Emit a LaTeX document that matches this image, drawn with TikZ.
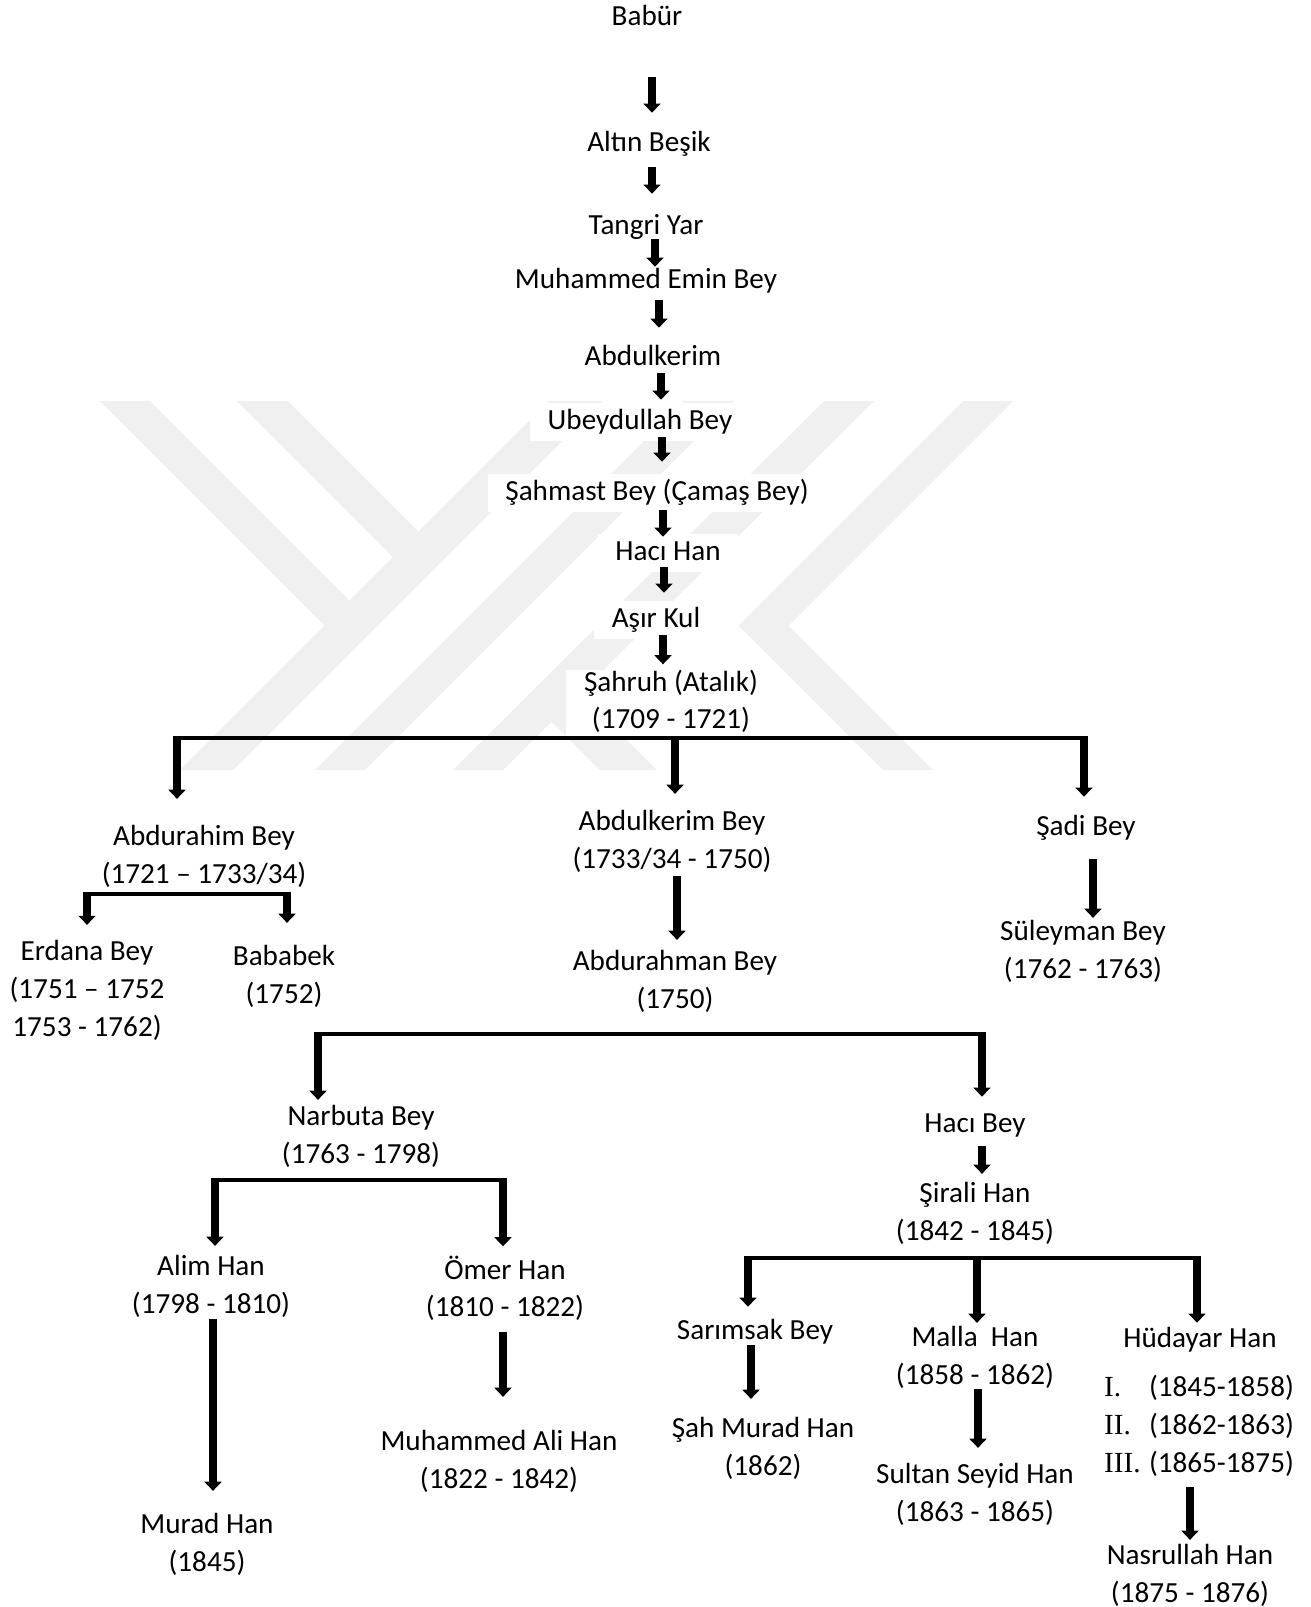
\documentclass[tikz,border=0pt]{standalone}
\usepackage{fontspec}
\setmainfont{Carlito}
\newfontfamily\romfont{Liberation Serif}
\usetikzlibrary{arrows.meta}

\tikzset{
  han/.style={font=\fontsize{16.6pt}{21.6pt}\selectfont, align=center, inner xsep=10pt, inner ysep=0pt,
    fill=white, execute at begin node=\strut, execute at end node=\strut},
  arr/.style={line width=4.4pt, -{Triangle[width=9.6pt,length=5.2pt]}},
  bar/.style={line width=2pt},
  gap/.style 2 args={shorten <=#1*0.02cm, shorten >=#2*0.02cm},
  wm/.style={fill=black!6}
}

\begin{document}
\begin{tikzpicture}[x=0.02cm,y=-0.02cm]
\useasboundingbox[fill=white] (0,0) rectangle (1311,1607);

% watermark
\fill[wm] (100,401) -- (150,401) -- (349.5,600.5) -- (324.5,625.5) -- cycle;
\fill[wm] (237,401) -- (288,401) -- (418.5,531.5) -- (393,557) -- cycle;
\fill[wm] (180,770) -- (233,770) -- (602,401) -- (549,401) -- cycle;
\fill[wm] (315,770) -- (365,770) -- (734,401) -- (684,401) -- cycle;
\fill[wm] (453,770) -- (503,770) -- (874,401) -- (824,401) -- cycle;
\fill[wm] (551.5,721.5) -- (580,693) -- (657,770) -- (600,770) -- cycle;
\fill[wm] (963,401) -- (1013,401) -- (788.5,625.5) -- (933,770) -- (883,770) -- (738.5,625.5) -- cycle;

\node[han] (babur) at (647,18) {Babür};
\node[han] (altin) at (649,144) {Altın Beşik};
\node[han] (tangri) at (646,227) {Tangri Yar};
\node[han] (muhammed) at (646,281) {Muhammed Emin Bey};
\node[han] (abdulkerim) at (653,358) {Abdulkerim};
\node[han] (ubeydullah) at (640,422) {Ubeydullah Bey};
\node[han] (sahmast) at (657,493) {Şahmast Bey (Çamaş Bey)};
\node[han] (haci) at (668,553) {Hacı Han};
\node[han] (asir) at (656,620) {Aşır Kul};
\node[han] (sahruh) at (671,705) {Şahruh (Atalık)\\(1709 - 1721)};

\node[han] (abdurahim) at (204,860) {Abdurahim Bey\\(1721 – 1733/34)};
\node[han] (abdulkerimbey) at (672,845.5) {Abdulkerim Bey\\(1733/34 - 1750)};
\node[han] (sadi) at (1086,828) {Şadi Bey};
\node[han] (erdana) at (87,994.5) {Erdana Bey\\(1751 – 1752\\1753 - 1762)};
\node[han] (bababek) at (284,980) {Bababek\\(1752)};
\node[han] (abdurahman) at (675,985.5) {Abdurahman Bey\\(1750)};
\node[han] (suleyman) at (1083,955.5) {Süleyman Bey\\(1762 - 1763)};

\node[han] (narbuta) at (361,1140) {Narbuta Bey\\(1763 - 1798)};
\node[han] (hacibey) at (975,1125) {Hacı Bey};
\node[han] (sirali) at (975,1217) {Şirali Han\\(1842 - 1845)};
\node[han] (alim) at (211,1290) {Alim Han\\(1798 - 1810)};
\node[han] (omer) at (505,1292) {Ömer Han\\(1810 - 1822)};
\node[han] (murad) at (207,1548.5) {Murad Han\\(1845)};
\node[han] (muhammedali) at (499,1465) {Muhammed Ali Han\\(1822 - 1842)};
\node[han] (sarimsak) at (755,1332) {Sarımsak Bey};
\node[han] (sahmurad) at (763,1452.5) {Şah Murad Han\\(1862)};
\node[han] (malla) at (975,1361) {Malla~ Han\\(1858 - 1862)};
\node[han] (sultan) at (975,1498) {Sultan Seyid Han\\(1863 - 1865)};
\node[han] (hudayar) at (1200,1340) {Hüdayar Han};
\node[han] (hudterms) at (1199,1427) {\begin{tabular}{@{}l@{\hspace{4.8pt}}l@{}}
  {\romfont I.} & (1845-1858)\\
  {\romfont II.} & (1862-1863)\\
  {\romfont III.} & (1865-1875)
\end{tabular}};
\node[han] (nasrullah) at (1190,1579) {Nasrullah Han\\(1875 - 1876)};

\coordinate (t1) at (177,738);
\coordinate (t2) at (675,738);
\coordinate (t3) at (1084,738);
\coordinate (a1) at (87,894);
\coordinate (a2) at (287,894);
\coordinate (n1) at (318,1034);
\coordinate (n2) at (982,1034);
\coordinate (b1) at (215,1180);
\coordinate (b2) at (503,1180);
\coordinate (s1) at (748,1258);
\coordinate (s2) at (977,1258);
\coordinate (s3) at (1197,1258);

\draw[bar] (t1) -- (t3);
\draw[bar] (a1) -- (a2);
\draw[bar] (n1) -- (n2);
\draw[bar] (b1) -- (b2);
\draw[bar] (s1) -- (s3);

\foreach \a/\b/\s/\e/\d in {babur/altin/40/12/5, altin/tangri/4/14/3, tangri/muhammed/-7/-5/9,
  muhammed/abdulkerim/0/11/13, abdulkerim/ubeydullah/-4/3/8, ubeydullah/sahmast/-4/12/22,
  sahmast/haci/-2/-3/6, haci/asir/-5/8/-4, asir/sahruh/-4/5/7,
  abdulkerimbey/abdurahman/-4.5/10.5/5, sadi/suleyman/12/2.5/7, hacibey/sirali/2/8/7,
  alim/murad/-6/22.5/2, omer/muhammedali/3/33/-2, sarimsak/sahmurad/-6/18.5/-4,
  malla/sultan/-7/15/3, hudterms/nasrullah/3/4/-9}
\draw[arr,gap={\s}{\e}] ([xshift=\d*0.02cm]\a.south) -- ([xshift=\d*0.02cm]\a.south |- \b.north);

\foreach \c/\b/\e in {t1/abdurahim/26, t2/abdulkerimbey/16.5, t3/sadi/12,
  a1/erdana/15.5, a2/bababek/22, n1/narbuta/5, n2/hacibey/9,
  b1/alim/9, b2/omer/9, s1/sarimsak/6, s2/malla/3, s3/hudayar/-2}
\draw[arr,gap={-2}{\e}] (\c) -- (\c |- \b.north);
\end{tikzpicture}
\end{document}
